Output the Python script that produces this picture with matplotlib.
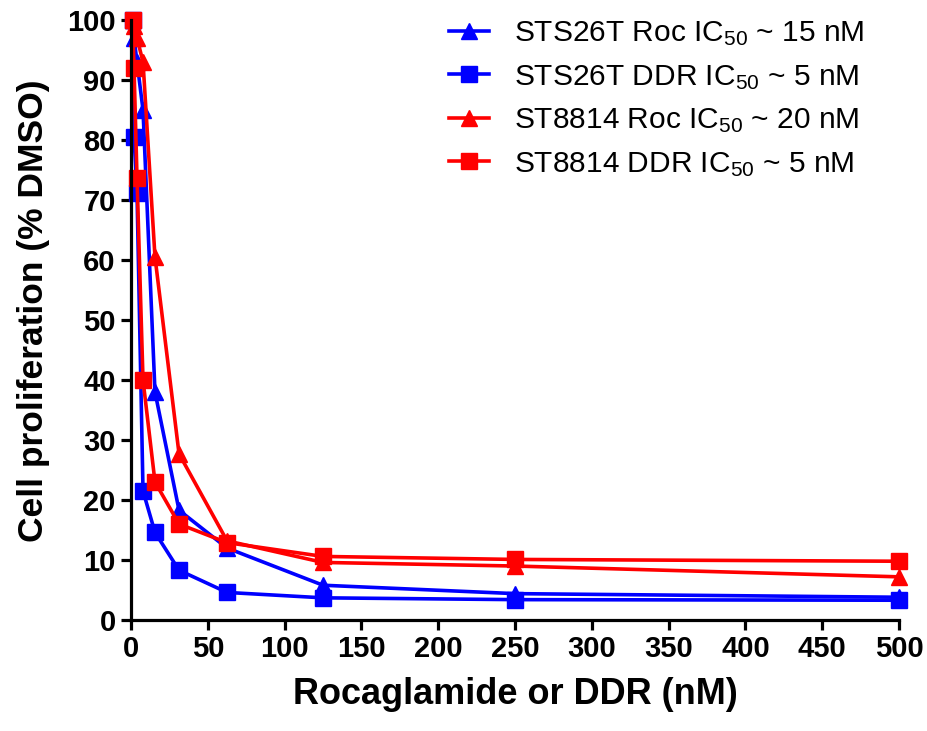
import matplotlib
matplotlib.use("Agg")
import matplotlib.pyplot as plt

plt.rcParams['font.family'] = ['Liberation Sans', 'DejaVu Sans']
plt.rcParams['mathtext.fontset'] = 'custom'
plt.rcParams['mathtext.rm'] = 'Liberation Sans'

# Dose series (nM), two-fold dilutions
doses = [0.98, 1.95, 3.9, 7.8, 15.6, 31.25, 62.5, 125, 250, 500]

sts26t_roc = [100, 97, 93, 85, 38, 18.3, 12.0, 5.8, 4.4, 3.8]
sts26t_ddr = [100, 80.5, 71.2, 21.5, 14.6, 8.3, 4.6, 3.7, 3.4, 3.3]
st8814_roc = [100, 99, 97, 93, 60.5, 27.7, 13.2, 9.6, 9.0, 7.2]
st8814_ddr = [100, 92, 73.6, 40, 23, 16, 12.9, 10.6, 10.1, 9.8]

labels = [
    r"STS26T Roc IC$\mathregular{_{50}}$ ~ 15 nM",
    r"STS26T DDR IC$\mathregular{_{50}}$ ~ 5 nM",
    r"ST8814 Roc IC$\mathregular{_{50}}$ ~ 20 nM",
    r"ST8814 DDR IC$\mathregular{_{50}}$ ~ 5 nM",
]
series = [sts26t_roc, sts26t_ddr, st8814_roc, st8814_ddr]
colors = ['#0000ff', '#0000ff', '#ff0000', '#ff0000']
markers = ['^', 's', '^', 's']

xticks = [0, 50, 100, 150, 200, 250, 300, 350, 400, 450, 500]
yticks = [0, 10, 20, 30, 40, 50, 60, 70, 80, 90, 100]

fig = plt.figure(figsize=(9.28, 7.31), dpi=100)
ax = fig.add_axes([0.1412, 0.1518, 0.8276, 0.8208])

handles = []
for vals, c, m, lab in zip(series, colors, markers, labels):
    h, = ax.plot(doses, vals, color=c, marker=m, markersize=11, linewidth=2.6,
                 label=lab, clip_on=False)
    handles.append(h)

ax.set_xlim(0, 500)
ax.set_ylim(0, 100)
ax.set_xticks(xticks)
ax.set_yticks(yticks)
ax.set_xticklabels([str(t) for t in xticks], fontsize=21, fontweight='bold')
ax.set_yticklabels([str(t) for t in yticks], fontsize=21, fontweight='bold')

for s in ['top', 'right']:
    ax.spines[s].set_visible(False)
for s in ['left', 'bottom']:
    ax.spines[s].set_linewidth(2.3)
ax.tick_params(axis='both', direction='out', length=7, width=2.3, pad=4)

ax.set_xlabel("Rocaglamide or DDR (nM)", fontsize=26, fontweight='bold', labelpad=10)
ax.set_ylabel("Cell proliferation (% DMSO)", fontsize=25.5, fontweight='bold')
ax.yaxis.set_label_coords(-0.105, 0.515)

leg = fig.legend(handles=handles, labels=labels, loc='upper left',
                 bbox_to_anchor=(0.463, 1.0), frameon=False, fontsize=21.5,
                 handlelength=1.34, handletextpad=0.84, labelspacing=0.49,
                 borderpad=0.15, markerscale=1.0)

fig.savefig("out.png", dpi=100)
